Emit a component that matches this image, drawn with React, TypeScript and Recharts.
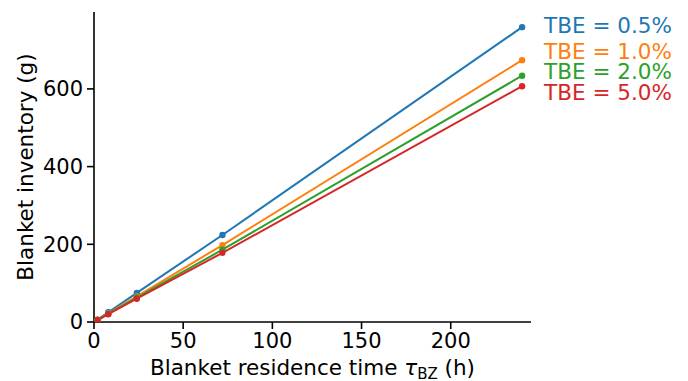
import React from "react";
import { LineChart, Line, XAxis, YAxis, LabelList } from "recharts";

const residenceTimes = [2, 8, 24, 72, 240];
const tbe05 = [6, 25, 75, 224, 759];
const tbe10 = [5, 22, 66, 198, 674];
const tbe20 = [5, 21, 63, 186, 634];
const tbe50 = [5, 20, 60, 178, 607];
const seriesNames = ["TBE = 0.5%", "TBE = 1.0%", "TBE = 2.0%", "TBE = 5.0%"];
const seriesKeys = ["tbe05", "tbe10", "tbe20", "tbe50"];
const xTicks = [0, 50, 100, 150, 200];
const yTicks = [0, 200, 400, 600];

const colors = ["#1f77b4", "#ff7f0e", "#2ca02c", "#d62728"];
const labelDy = [-2, -8.5, -4, 6.5];
const FONT = "DejaVu Sans";
const FS = 21.5;
const TICK_FS = 21;

const data = residenceTimes.map((t, i) => ({
  t,
  tbe05: tbe05[i],
  tbe10: tbe10[i],
  tbe20: tbe20[i],
  tbe50: tbe50[i],
}));

const lastIndex = residenceTimes.length - 1;

const makeEndLabel = (si: number) => (props: any) => {
  const { x, y, index } = props;
  if (index !== lastIndex) return null;
  return (
    <text
      x={x + 22}
      y={y + labelDy[si]}
      fill={colors[si]}
      fontFamily={FONT}
      fontSize={FS}
      dominantBaseline="central"
      textAnchor="start"
    >
      {seriesNames[si]}
    </text>
  );
};

const XLabel = (props: any) => {
  const vb = props.viewBox || {};
  const cx = vb.x + vb.width / 2;
  const y = vb.y + 53;
  return (
    <text x={cx} y={y} textAnchor="middle" fontFamily={FONT} fontSize={FS} fill="#000">
      <tspan>Blanket residence time </tspan>
      <tspan fontStyle="italic">τ</tspan>
      <tspan fontSize={15} dy={4}>BZ</tspan>
      <tspan dy={-4}> (h)</tspan>
    </text>
  );
};

const YLabel = (props: any) => {
  const vb = props.viewBox || {};
  const cy = vb.y + vb.height / 2;
  const x = 25;
  return (
    <text
      x={x}
      y={cy}
      textAnchor="middle"
      dominantBaseline="central"
      transform={`rotate(-90, ${x}, ${cy})`}
      fontFamily={FONT}
      fontSize={FS}
      fill="#000"
    >
      Blanket inventory (g)
    </text>
  );
};

export default function App() {
  return (
    <div style={{ position: "absolute", left: 0, top: 0, width: 688, height: 381, background: "#fff" }}>
      <LineChart
        width={688}
        height={381}
        data={data}
        margin={{ top: 12, right: 157, bottom: 0, left: 0 }}
      >
        <XAxis
          dataKey="t"
          type="number"
          domain={[0, 245]}
          ticks={xTicks}
          allowDataOverflow
          height={59}
          tickSize={7}
          tickMargin={4}
          axisLine={{ stroke: "#000", strokeWidth: 1.6 }}
          tickLine={{ stroke: "#000", strokeWidth: 1.6 }}
          tick={{ fill: "#000", fontFamily: FONT, fontSize: TICK_FS }}
          label={<XLabel />}
        />
        <YAxis
          type="number"
          domain={[0, 798]}
          ticks={yTicks}
          allowDataOverflow
          width={94}
          tickSize={7}
          tickMargin={4}
          axisLine={{ stroke: "#000", strokeWidth: 1.6 }}
          tickLine={{ stroke: "#000", strokeWidth: 1.6 }}
          tick={{ fill: "#000", fontFamily: FONT, fontSize: TICK_FS }}
          label={<YLabel />}
        />
        {seriesKeys.map((k, si) => (
          <Line
            key={k}
            dataKey={k}
            stroke={colors[si]}
            strokeWidth={2}
            dot={{ r: 3.2, fill: colors[si], stroke: colors[si], strokeWidth: 0 }}
            activeDot={false}
            isAnimationActive={false}
          >
            <LabelList dataKey={k} content={makeEndLabel(si)} />
          </Line>
        ))}
      </LineChart>
    </div>
  );
}
